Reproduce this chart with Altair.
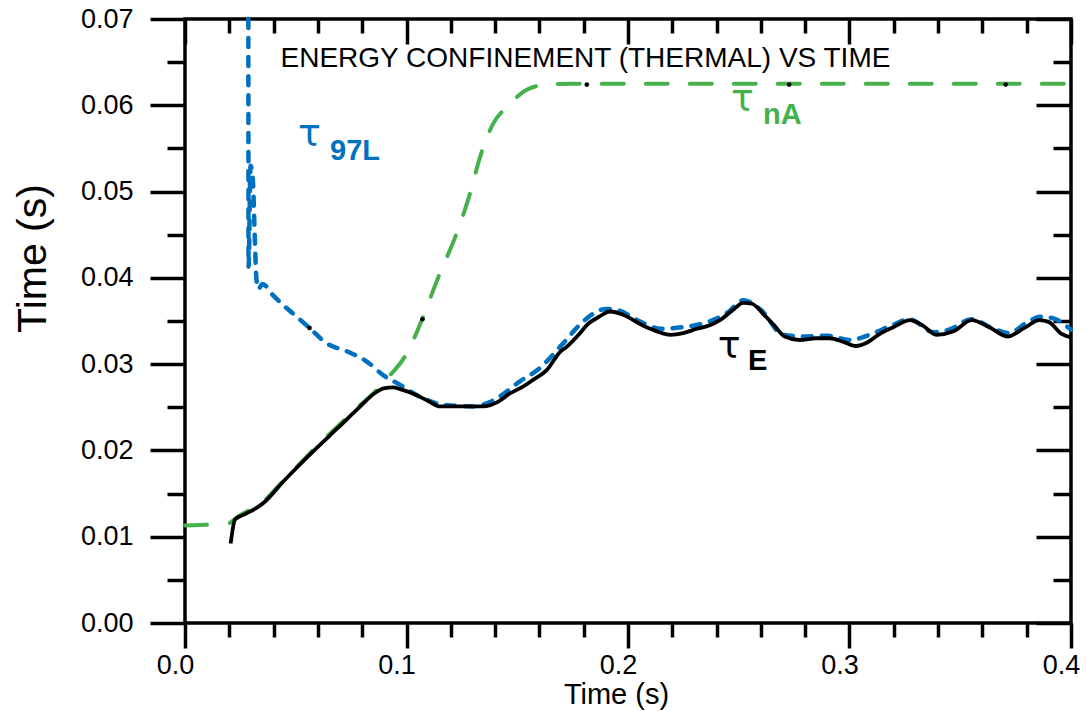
import altair as alt
import pandas as pd

# ---------------- data ----------------
# tau_E (black, solid)
te_t = [0.0206, 0.0226, 0.0260, 0.0293, 0.0354, 0.0444, 0.0520, 0.0595, 0.0690, 0.0775,
        0.0866, 0.0896, 0.0940, 0.0971, 0.1046, 0.1100, 0.1151, 0.1242, 0.1347, 0.1410,
        0.1467, 0.1520, 0.1573, 0.1633, 0.1693, 0.1723, 0.1777, 0.1813, 0.1870, 0.1919,
        0.1980, 0.2065, 0.2130, 0.2190, 0.2250, 0.2310, 0.2369, 0.2415, 0.2470, 0.2521,
        0.2560, 0.2611, 0.2660, 0.2707, 0.2775, 0.2850, 0.2910, 0.2970, 0.3028, 0.3080,
        0.3130, 0.3200, 0.3273, 0.3330, 0.3392, 0.3470, 0.3552, 0.3630, 0.3713, 0.3790,
        0.3857, 0.3899, 0.3958, 0.4000]
te_v = [0.0092, 0.0120, 0.0125, 0.0129, 0.0139, 0.0164, 0.0184, 0.0203, 0.0226, 0.0247,
        0.0268, 0.0272, 0.0273, 0.0271, 0.0264, 0.0257, 0.0251, 0.0251, 0.0251, 0.0256,
        0.0266, 0.0273, 0.0282, 0.0293, 0.0314, 0.0320, 0.0334, 0.0345, 0.0355, 0.0361,
        0.0357, 0.0345, 0.0338, 0.0334, 0.0336, 0.0341, 0.0345, 0.0351, 0.0362, 0.0371,
        0.0370, 0.0358, 0.0345, 0.0332, 0.0328, 0.0330, 0.0330, 0.0326, 0.0321, 0.0325,
        0.0334, 0.0343, 0.0351, 0.0345, 0.0334, 0.0338, 0.0351, 0.0343, 0.0332, 0.0342,
        0.0351, 0.0349, 0.0335, 0.0331]

# tau_97L (blue, short dashes)
tl_t = [0.0286, 0.0287, 0.0296, 0.0306, 0.0316, 0.0322, 0.0331, 0.0350, 0.0397, 0.0450,
        0.0504, 0.0562, 0.0640, 0.0730, 0.0821, 0.0896, 0.0971, 0.1061, 0.1167, 0.1302,
        0.1392, 0.1512, 0.1600, 0.1700, 0.1800, 0.1900, 0.1960, 0.2050, 0.2150, 0.2250,
        0.2350, 0.2450, 0.2520, 0.2600, 0.2700, 0.2800, 0.2900, 0.3000, 0.3100, 0.3200,
        0.3270, 0.3380, 0.3450, 0.3550, 0.3650, 0.3720, 0.3800, 0.3860, 0.3920, 0.4000]
tl_v = [0.0700, 0.0413, 0.0530, 0.0515, 0.0440, 0.0400, 0.0387, 0.0393, 0.0380, 0.0367,
        0.0355, 0.0342, 0.0324, 0.0315, 0.0303, 0.0287, 0.0276, 0.0262, 0.0253, 0.0251,
        0.0258, 0.0280, 0.0295, 0.0322, 0.0350, 0.0364, 0.0362, 0.0350, 0.0341, 0.0343,
        0.0348, 0.0360, 0.0374, 0.0363, 0.0334, 0.0332, 0.0333, 0.0328, 0.0335, 0.0346,
        0.0352, 0.0337, 0.0340, 0.0352, 0.0341, 0.0336, 0.0348, 0.0355, 0.0353, 0.0340]

# tau_nA (green, long dashes) - two pieces
tn_t = [0.0000, 0.0113,
        0.0203, 0.0250, 0.0293, 0.0354, 0.0444, 0.0520, 0.0595, 0.0690, 0.0775, 0.0866,
        0.0918, 0.0993, 0.1031, 0.1069, 0.1144, 0.1227, 0.1287, 0.1332, 0.1392, 0.1453,
        0.1543, 0.1633, 0.1750, 0.2500, 0.3200, 0.4000]
tn_v = [0.0113, 0.0114,
        0.0116, 0.0125, 0.0131, 0.0141, 0.0165, 0.0185, 0.0205, 0.0228, 0.0249, 0.0270,
        0.0285, 0.0309, 0.0328, 0.0351, 0.0401, 0.0452, 0.0498, 0.0540, 0.0579, 0.0598,
        0.0618, 0.0624, 0.0625, 0.0625, 0.0625, 0.0625]
tn_seg = [0, 0] + [1] * 26

# small black marker dots seen on the curves
dot_t = [0.0562, 0.1072, 0.1814, 0.2728, 0.3705]
dot_v = [0.0342, 0.0352, 0.0624, 0.0624, 0.0624]

# tick values
x_major = [0.0, 0.1, 0.2, 0.3, 0.4]
x_minor = [0.02, 0.04, 0.06, 0.08, 0.12, 0.14, 0.16, 0.18, 0.22, 0.24, 0.26, 0.28,
           0.32, 0.34, 0.36, 0.38]
y_major = [0.00, 0.01, 0.02, 0.03, 0.04, 0.05, 0.06, 0.07]
y_minor = [0.005, 0.015, 0.025, 0.035, 0.045, 0.055, 0.065]

# annotation texts
title_text = ["ENERGY CONFINEMENT (THERMAL) VS TIME"]
tau_text = ["τ", "τ", "τ"]
sub_text = ["97L", "nA", "E"]

BLUE = "#0070C0"
GREEN = "#46B04A"
FONT = "Liberation Sans"
W, H = 886, 604

xs = alt.Scale(domain=[0, 0.4], nice=False, zero=False)
ys = alt.Scale(domain=[0, 0.07], nice=False, zero=False)

df_te = pd.DataFrame({"t": te_t, "v": te_v, "i": range(len(te_t))})
df_tl = pd.DataFrame({"t": tl_t, "v": tl_v, "i": range(len(tl_t))})
df_tn = pd.DataFrame({"t": tn_t, "v": tn_v, "seg": tn_seg, "i": range(len(tn_t))})
df_dot = pd.DataFrame({"t": dot_t, "v": dot_v})

common = dict(domain=False, grid=False, tickColor="black", tickWidth=3.5)


def xaxis(values, size, offset=0, labels=False, title=""):
    kw = dict(common)
    kw.update(orient="bottom", values=values, tickSize=size, labels=labels, title=title)
    if offset:
        kw["offset"] = offset
    if labels:
        kw.update(format=".1f", labelFontSize=27, labelFont=FONT, labelColor="black",
                  labelPadding=4, labelOffset=-10, labelFlush=False, labelOverlap=False)
    if title:
        kw.update(titleFontSize=29, titleFont=FONT, titleFontWeight="normal",
                  titleColor="black", titleX=431, titleY=80, titleAlign="center",
                  titleBaseline="alphabetic")
    return alt.Axis(**kw)


def yaxis(values, size, offset=0, labels=False, title=""):
    kw = dict(common)
    kw.update(orient="left", values=values, tickSize=size, labels=labels, title=title)
    if offset:
        kw["offset"] = offset
    if labels:
        kw.update(format=".2f", labelFontSize=27, labelFont=FONT, labelColor="black",
                  labelPadding=17, labelOverlap=False)
    if title:
        kw.update(titleFontSize=41, titleFont=FONT, titleFontWeight="normal",
                  titleColor="black", titleX=-152, titleY=239, titleAngle=270,
                  titleAlign="center", titleBaseline="middle")
    return alt.Axis(**kw)


black = alt.Chart(df_te).mark_line(color="black", strokeWidth=3.8, interpolate="monotone").encode(
    x=alt.X("t:Q", scale=xs, axis=xaxis(x_major, 25, labels=True, title="Time (s)")),
    y=alt.Y("v:Q", scale=ys, axis=yaxis(y_major, 35, labels=True, title="Time (s)")),
    order="i:Q",
)

blue = alt.Chart(df_tl).mark_line(color=BLUE, strokeWidth=4.5, strokeDash=[9, 10],
                                  strokeCap="round", interpolate="monotone").encode(
    x=alt.X("t:Q", scale=xs, axis=xaxis(x_minor, 14)),
    y=alt.Y("v:Q", scale=ys, axis=yaxis(y_minor, 18)),
    order="i:Q",
)

green = alt.Chart(df_tn).mark_line(color=GREEN, strokeWidth=4, strokeDash=[22, 22],
                                   strokeCap="round", interpolate="monotone").encode(
    x=alt.X("t:Q", scale=xs, axis=xaxis(x_major, 25, offset=-H)),
    y=alt.Y("v:Q", scale=ys, axis=yaxis(y_major, 35, offset=-W)),
    detail="seg:N",
    order="i:Q",
)

dots = alt.Chart(df_dot).mark_circle(color="black", size=22, opacity=1).encode(
    x=alt.X("t:Q", scale=xs, axis=xaxis(x_minor, 14, offset=-H)),
    y=alt.Y("v:Q", scale=ys, axis=yaxis(y_minor, 18, offset=-W)),
)

# annotation anchors in data units
df_title = pd.DataFrame({"txt": title_text, "t": [0.1808], "v": [0.06447]})
df_tau = pd.DataFrame({"txt": tau_text, "t": [0.0510, 0.2465, 0.2405],
                       "v": [0.0553, 0.0593, 0.0307], "c": [BLUE, GREEN, "black"]})
df_sub = pd.DataFrame({"txt": sub_text, "t": [0.0655, 0.2610, 0.2542],
                       "v": [0.0537, 0.0578, 0.0293], "c": [BLUE, GREEN, "black"]})

title_layer = alt.Chart(df_title).mark_text(font=FONT, fontSize=28, color="black",
                                            align="center", baseline="alphabetic").encode(
    x=alt.X("t:Q", scale=xs, axis=None), y=alt.Y("v:Q", scale=ys, axis=None), text="txt:N")

tau_layer = alt.Chart(df_tau).mark_text(font="DejaVu Sans", fontSize=38, align="left",
                                        baseline="alphabetic").encode(
    x=alt.X("t:Q", scale=xs, axis=None), y=alt.Y("v:Q", scale=ys, axis=None), text="txt:N",
    color=alt.Color("c:N", scale=None))

sub_layer = alt.Chart(df_sub).mark_text(font=FONT, fontSize=29, fontWeight="bold", align="left",
                                        baseline="alphabetic").encode(
    x=alt.X("t:Q", scale=xs, axis=None), y=alt.Y("v:Q", scale=ys, axis=None), text="txt:N",
    color=alt.Color("c:N", scale=None))

chart = alt.layer(green, blue, black, dots, title_layer, tau_layer, sub_layer).resolve_axis(
    x="independent", y="independent"
).properties(
    width=W, height=H,
    padding={"left": 185, "top": 19, "right": 16, "bottom": 88},
    autosize=alt.AutoSizeParams(type="none"),
    background="white",
).configure_view(stroke="black", strokeWidth=3.5)

chart.save("out.html", embed_options={"renderer": "svg", "actions": False})
